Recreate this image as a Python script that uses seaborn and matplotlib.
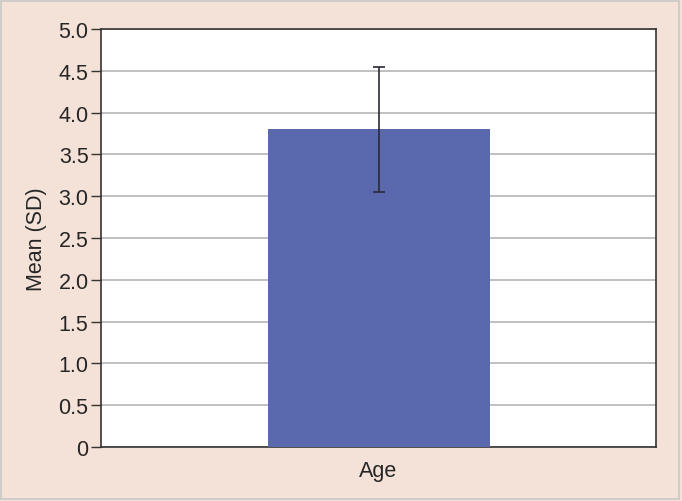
import matplotlib
matplotlib.use("Agg")
import matplotlib.pyplot as plt
import seaborn as sns
import pandas as pd

# values
categories = ["Age"]
means = [3.8]
sds = [0.75]
y_ticks = [0, 0.5, 1.0, 1.5, 2.0, 2.5, 3.0, 3.5, 4.0, 4.5, 5.0]
y_tick_labels = ["0", "0.5", "1.0", "1.5", "2.0", "2.5", "3.0", "3.5", "4.0", "4.5", "5.0"]

df = pd.DataFrame({"var": categories, "mean": means, "sd": sds})

sns.set_style("white")
plt.rcParams["font.family"] = ["Liberation Sans", "DejaVu Sans"]

bg = "#f4e1d7"
fig = plt.figure(figsize=(6.82, 5.02), dpi=100, facecolor=bg)
fig.patches.append(plt.Rectangle((0.002, 0.004), 0.994, 0.992, transform=fig.transFigure,
                                 fill=False, edgecolor="#c8c8c8", lw=1.2))
ax = fig.add_axes([101 / 682, 1 - 448 / 502, 555 / 682, 418 / 502])
ax.set_facecolor("white")

sns.barplot(data=df, x="var", y="mean", color="#5a69ae", saturation=1, width=0.4,
            errorbar=None, linewidth=0, ax=ax, zorder=3)
# bar sits over the bottom spine, as in the reference
for p in ax.patches:
    p.set_clip_on(False)
ax.errorbar(x=range(len(df)), y=df["mean"], yerr=df["sd"], fmt="none",
            ecolor="#2a2a3a", elinewidth=1.2, capsize=4, capthick=1.2, zorder=4)

ax.set_ylim(0, 5)
ax.set_xlim(-0.5, 0.5)
ax.set_yticks(y_ticks)
ax.set_yticklabels(y_tick_labels, fontsize=15.5)
ax.tick_params(axis="y", left=True, length=7, width=1, color="#333333", pad=2)
ax.tick_params(axis="x", bottom=False, labelsize=15.5, pad=6)
ax.yaxis.grid(True, color="#b5b5b5", lw=1.2, zorder=0)
ax.set_axisbelow(True)
for s in ax.spines.values():
    s.set_color("#333333")
    s.set_linewidth(1.2)
    s.set_zorder(2.5)
ax.set_xlabel("")
ax.set_ylabel("Mean (SD)", fontsize=15.5, labelpad=8)

fig.savefig("out.png", dpi=100, facecolor=bg)
